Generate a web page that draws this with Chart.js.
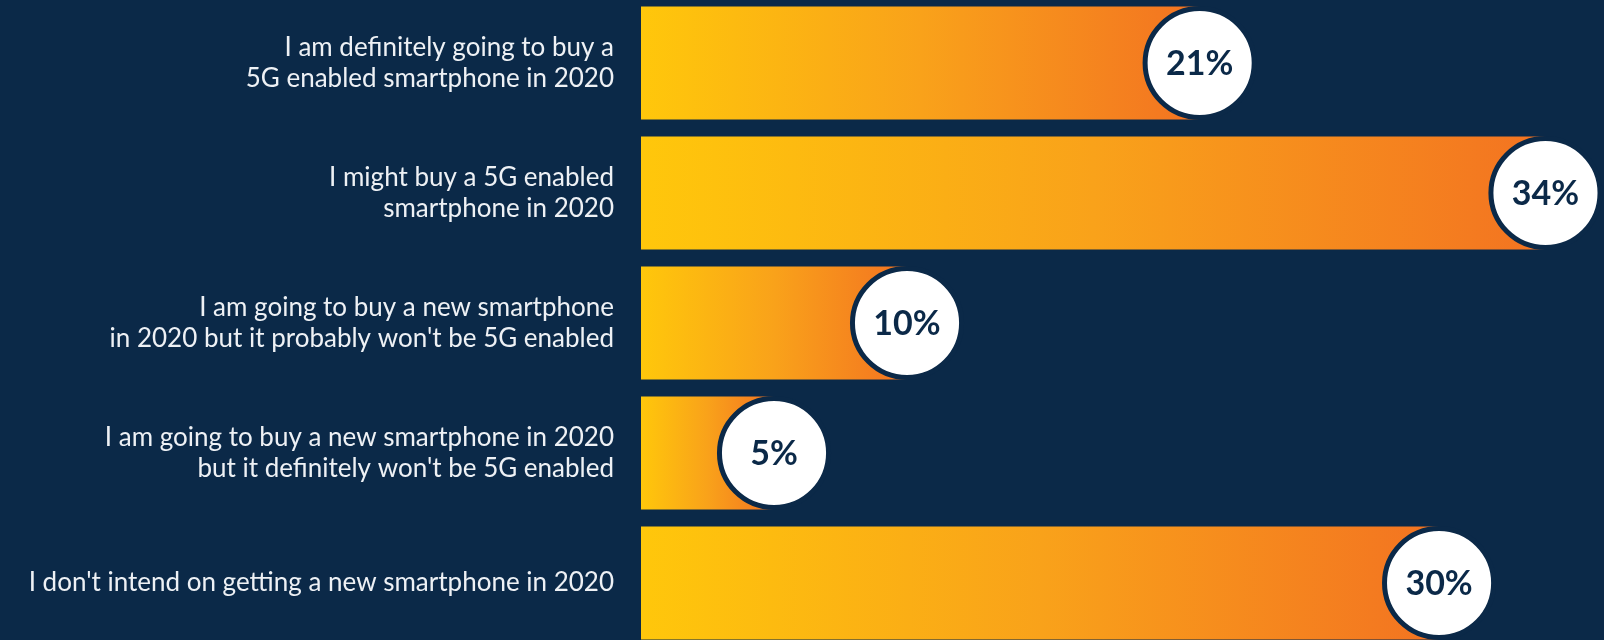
<!DOCTYPE html>
<html>
<head>
<meta charset="utf-8">
<script src="https://cdn.jsdelivr.net/npm/chart.js@4"></script>
<style>
  html, body { margin: 0; padding: 0; background: #0b2948; overflow: hidden; width: 1604px; height: 640px; }
  #chart { position: absolute; left: 0; top: -2px; }
</style>
</head>
<body>
<canvas id="chart" width="1604" height="650"></canvas>
<script>
// Survey answers about buying a 5G smartphone in 2020
const answers = [
  ["I am definitely going to buy a", "5G enabled smartphone in 2020"],
  ["I might buy a 5G enabled", "smartphone in 2020"],
  ["I am going to buy a new smartphone", "in 2020 but it probably won't be 5G enabled"],
  ["I am going to buy a new smartphone in 2020", "but it definitely won't be 5G enabled"],
  "I don't intend on getting a new smartphone in 2020"
];
const shares = [21, 34, 10, 5, 30];

const NAVY = '#0b2948';
const GRAD_STOPS = ['#ffc70b', '#f9a21a', '#f37321'];

// Each bar gets its own yellow-to-orange gradient running from its base to its tip
function barGradient(ctx) {
  const chart = ctx.chart;
  if (!chart.chartArea || ctx.type !== 'data') return GRAD_STOPS[1];
  const xs = chart.scales.x;
  const x0 = xs.getPixelForValue(0);
  const x1 = xs.getPixelForValue(ctx.raw);
  const g = chart.ctx.createLinearGradient(x0, 0, Math.max(x1, x0 + 1), 0);
  g.addColorStop(0, GRAD_STOPS[0]);
  g.addColorStop(0.5, GRAD_STOPS[1]);
  g.addColorStop(1, GRAD_STOPS[2]);
  return g;
}

// White badge with the percentage at the tip of every bar
const badgePlugin = {
  id: 'badges',
  afterDatasetsDraw(chart) {
    const c = chart.ctx;
    const meta = chart.getDatasetMeta(0);
    meta.data.forEach((bar, i) => {
      const r = bar.height / 2;
      c.save();
      c.beginPath();
      c.arc(bar.x, bar.y, r - 2, 0, Math.PI * 2);
      c.fillStyle = '#ffffff';
      c.fill();
      c.lineWidth = 5;
      c.strokeStyle = NAVY;
      c.stroke();
      c.fillStyle = NAVY;
      c.font = 'bold 34px Lato';
      c.textAlign = 'center';
      c.textBaseline = 'middle';
      c.fillText(shares[i] + '%', bar.x, bar.y + 1);
      c.restore();
    });
  }
};

new Chart(document.getElementById('chart'), {
  type: 'bar',
  data: {
    labels: answers,
    datasets: [{
      data: shares,
      backgroundColor: barGradient,
      borderWidth: 0,
      barPercentage: 0.87,
      categoryPercentage: 1
    }]
  },
  options: {
    indexAxis: 'y',
    responsive: false,
    animation: false,
    devicePixelRatio: 1,
    layout: { padding: 0 },
    plugins: {
      legend: { display: false },
      tooltip: { enabled: false }
    },
    scales: {
      x: {
        display: false,
        min: 0,
        max: 36.2
      },
      y: {
        afterFit(scale) {
          scale.width = 641;
          scale.paddingTop = 0;
          scale.paddingBottom = 0;
        },
        grid: { display: false, drawTicks: false },
        border: { display: false },
        ticks: {
          color: '#eef1f5',
          padding: 27,
          font: { family: 'Lato', size: 26, lineHeight: 1.2 }
        }
      }
    }
  },
  plugins: [badgePlugin]
});
</script>
</body>
</html>
